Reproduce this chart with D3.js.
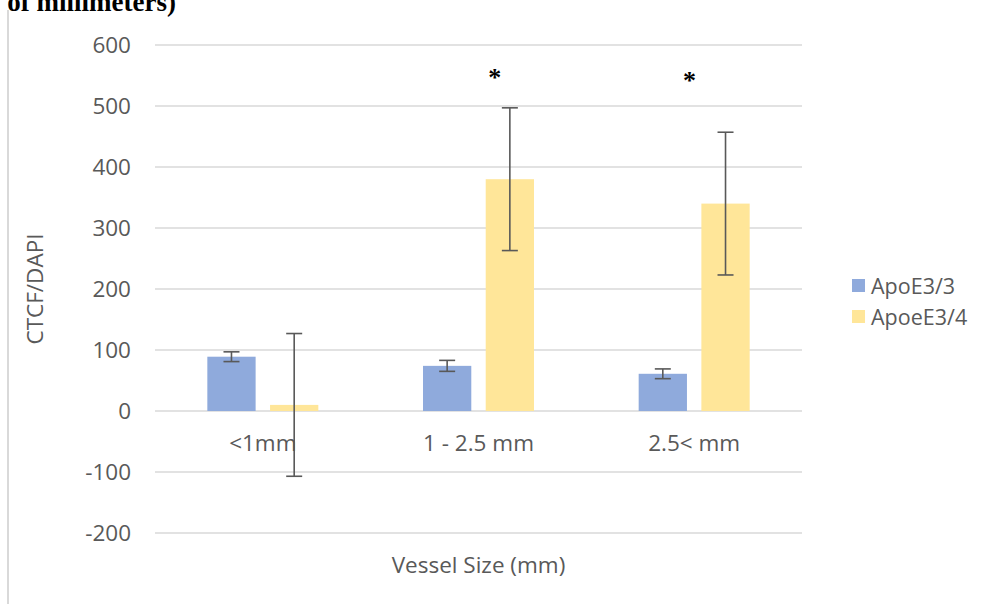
<!DOCTYPE html>
<html>
<head>
<meta charset="utf-8">
<title>CTCF/DAPI by vessel size</title>
<script src="https://cdn.jsdelivr.net/npm/d3@7"></script>
<style>
  body { margin: 0; background: #fff; }
  text { font-family: "Open Sans", "Liberation Sans", sans-serif; }
</style>
</head>
<body>
<svg width="993" height="604"></svg>
<script>
  // data
  var categories = ["<1mm", "1 - 2.5 mm", "2.5< mm"];
  var seriesNames = ["ApoE3/3", "ApoeE3/4"];
  var apoE33 = [89, 74, 61];
  var apoE33Err = [8, 9, 8];
  var apoE34 = [10, 380, 340];
  var apoE34Err = [117, 117, 117];
  var starred = [false, true, true];
  var yTicks = [-200, -100, 0, 100, 200, 300, 400, 500, 600];

  var colors = ["#8faadc", "#ffe699"];
  var values = [apoE33, apoE34];
  var errors = [apoE33Err, apoE34Err];
  // the stars were placed by hand, not centred on the bars
  var starDx = [0, -15, -36];
  var starY = [0, 86, 89];

  var svg = d3.select("svg"),
    margin = { top: 45, right: 191, bottom: 71, left: 155 },
    width = +svg.attr("width") - margin.left - margin.right,
    height = +svg.attr("height") - margin.top - margin.bottom,
    g = svg.append("g").attr("transform", "translate(" + margin.left + "," + margin.top + ")");

  // cut-off caption above the chart and the frame line on the left
  svg.append("text")
    .attr("x", 176)
    .attr("y", 11)
    .attr("text-anchor", "end")
    .style("font-family", "'Liberation Serif', serif")
    .style("font-weight", "bold")
    .style("font-size", "27px")
    .attr("fill", "#000")
    .text("of millimeters)");

  svg.append("line")
    .attr("x1", 8).attr("x2", 8)
    .attr("y1", 10).attr("y2", 604)
    .attr("stroke", "#d9d9d9")
    .attr("stroke-width", 2);

  var x0 = d3.scaleBand()
    .domain(categories)
    .range([0, width]);

  var x1 = d3.scaleBand()
    .domain(seriesNames)
    .range([x0.bandwidth() / 2 - 55.5, x0.bandwidth() / 2 + 55.5])
    .paddingInner(0.23);

  var y = d3.scaleLinear()
    .domain([-200, 600])
    .range([height, 0]);

  // gridlines
  g.append("g")
    .selectAll("line")
    .data(yTicks)
    .enter().append("line")
    .attr("x1", 0)
    .attr("x2", width)
    .attr("y1", function (d) { return y(d); })
    .attr("y2", function (d) { return y(d); })
    .attr("stroke", "#d9d9d9")
    .attr("stroke-width", 1.5);

  // y tick labels
  var yAxis = g.append("g")
    .call(d3.axisLeft(y).tickValues(yTicks).tickSize(0).tickPadding(24)
      .tickFormat(function (d) { return String(d); }));
  yAxis.select(".domain").remove();
  yAxis.selectAll("text")
    .attr("fill", "#595959")
    .style("font-size", "22.5px");

  // bars
  var groups = g.append("g")
    .selectAll("g")
    .data(categories)
    .enter().append("g")
    .attr("transform", function (d) { return "translate(" + x0(d) + ",0)"; });

  var cells = groups.selectAll("g")
    .data(function (d, i) {
      return seriesNames.map(function (s, j) {
        return { series: s, idx: j, value: values[j][i], err: errors[j][i] };
      });
    })
    .enter().append("g");

  cells.append("rect")
    .attr("x", function (d) { return x1(d.series); })
    .attr("width", x1.bandwidth())
    .attr("y", function (d) { return y(Math.max(0, d.value)); })
    .attr("height", function (d) { return Math.abs(y(d.value) - y(0)); })
    .attr("fill", function (d) { return colors[d.idx]; });

  // error bars
  var cx = function (d) { return x1(d.series) + x1.bandwidth() / 2; };
  cells.append("line")
    .attr("x1", cx).attr("x2", cx)
    .attr("y1", function (d) { return y(d.value + d.err); })
    .attr("y2", function (d) { return y(d.value - d.err); })
    .attr("stroke", "#595959")
    .attr("stroke-width", 1.6);
  cells.selectAll(".cap")
    .data(function (d) { return [d.value + d.err, d.value - d.err].map(function (v) { return { v: v, d: d }; }); })
    .enter().append("line")
    .attr("class", "cap")
    .attr("x1", function (c) { return cx(c.d) - 8; })
    .attr("x2", function (c) { return cx(c.d) + 8; })
    .attr("y1", function (c) { return y(c.v); })
    .attr("y2", function (c) { return y(c.v); })
    .attr("stroke", "#595959")
    .attr("stroke-width", 1.6);

  // significance stars
  groups.filter(function (d, i) { return starred[i]; })
    .append("text")
    .attr("x", function (d) { return x1(seriesNames[1]) + x1.bandwidth() / 2 + starDx[categories.indexOf(d)]; })
    .attr("y", function (d) { return starY[categories.indexOf(d)] - margin.top; })
    .attr("text-anchor", "middle")
    .style("font-family", "'Liberation Serif', serif")
    .style("font-weight", "bold")
    .style("font-size", "26px")
    .attr("fill", "#000")
    .text("*");

  // category labels
  g.append("g")
    .selectAll("text")
    .data(categories)
    .enter().append("text")
    .attr("x", function (d) { return x0(d) + x0.bandwidth() / 2; })
    .attr("y", y(0) + 40)
    .attr("text-anchor", "middle")
    .attr("fill", "#595959")
    .style("font-size", "22.5px")
    .text(function (d) { return d; });

  // axis titles
  svg.append("text")
    .attr("x", margin.left + width / 2)
    .attr("y", 573)
    .attr("text-anchor", "middle")
    .attr("fill", "#595959")
    .style("font-size", "22.5px")
    .text("Vessel Size (mm)");

  svg.append("text")
    .attr("transform", "translate(43," + (margin.top + height / 2) + ") rotate(-90)")
    .attr("text-anchor", "middle")
    .attr("fill", "#595959")
    .style("font-size", "22.5px")
    .text("CTCF/DAPI");

  // legend
  var legend = svg.append("g")
    .selectAll("g")
    .data(seriesNames)
    .enter().append("g")
    .attr("transform", function (d, i) { return "translate(852," + (279 + i * 31) + ")"; });

  legend.append("rect")
    .attr("width", 13)
    .attr("height", 13)
    .attr("fill", function (d, i) { return colors[i]; });

  legend.append("text")
    .attr("x", 19)
    .attr("y", 7)
    .attr("dy", "0.35em")
    .attr("fill", "#595959")
    .style("font-size", "21.5px")
    .text(function (d) { return d; });
</script>
</body>
</html>
